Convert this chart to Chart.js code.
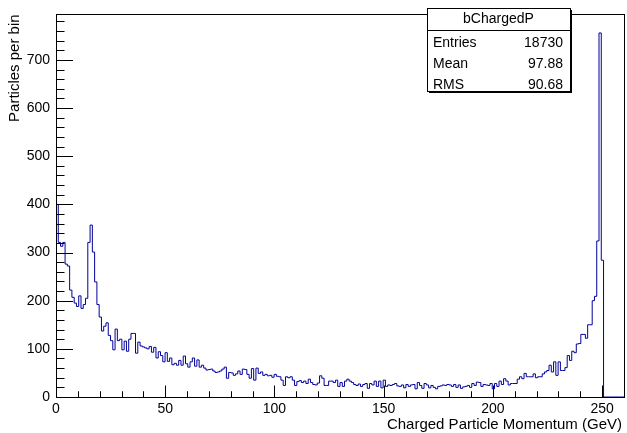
<!DOCTYPE html>
<html>
<head>
<meta charset="utf-8">
<script src="https://cdn.jsdelivr.net/npm/chart.js@4/dist/chart.umd.min.js"></script>
<style>
  html, body { margin: 0; padding: 0; background: #fff; }
  #wrap { width: 627px; height: 433px; }
</style>
</head>
<body>
<div id="wrap"><canvas id="histo" width="627" height="433"></canvas></div>
<script>
// ─── bChargedP histogram ─────────────────────────────────────────────────────

// 250 bins of 1.04 GeV on 0..260
const binWidth = 1.04;
const counts = [
  400, 321, 313, 321, 276, 272, 222, 207, 195, 188,
  210, 184, 192, 205, 321, 357, 301, 239, 192, 166,
  137, 147, 154, 128, 117, 98, 141, 117, 120, 98,
  116, 95, 120, 132, 132, 91, 114, 106, 104, 102,
  100, 105, 93, 103, 81, 94, 86, 73, 92, 74,
  81, 67, 70, 66, 76, 66, 85, 69, 62, 73,
  81, 64, 77, 62, 66, 60, 56, 57, 58, 54,
  51, 52, 54, 58, 62, 39, 51, 50, 45, 48,
  54, 47, 58, 57, 47, 39, 59, 35, 60, 49,
  52, 45, 47, 44, 45, 41, 47, 43, 42, 35,
  24, 42, 40, 42, 35, 24, 32, 34, 30, 33,
  28, 37, 30, 26, 25, 29, 44, 39, 24, 24,
  33, 33, 30, 35, 22, 30, 22, 33, 37, 33,
  30, 26, 24, 27, 22, 26, 28, 18, 28, 25,
  33, 22, 33, 19, 35, 22, 25, 24, 26, 28,
  23, 22, 25, 19, 26, 22, 25, 26, 17, 30,
  24, 18, 28, 25, 19, 24, 20, 17, 22, 23,
  25, 24, 26, 25, 22, 26, 20, 25, 18, 21,
  22, 24, 20, 28, 24, 31, 30, 22, 26, 25,
  24, 28, 17, 28, 22, 33, 26, 38, 33, 25,
  28, 28, 28, 37, 42, 38, 49, 42, 42, 42,
  48, 40, 42, 42, 48, 52, 55, 66, 52, 73,
  45, 73, 55, 55, 61, 86, 76, 95, 92, 110,
  111, 130, 130, 122, 150, 150, 200, 209, 324, 756,
  284, 0, 0, 0, 0, 0, 0, 0, 0, 0
];

const xTicks = [0, 50, 100, 150, 200, 250];
const yTicks = [0, 100, 200, 300, 400, 500, 600, 700];
const xRange = [0, 260];
const yRange = [0, 794.5];

const histName = 'bChargedP';
const statLabels = ['Entries', 'Mean', 'RMS'];
const statValues = ['18730', '97.88', '90.68'];

const xTitle = 'Charged Particle Momentum (GeV)';
const yTitle = 'Particles per bin';

const FONT = '"Liberation Sans", Arial, Helvetica, sans-serif';

// step points at the left edge of each bin, plus the closing edge
const points = counts.map((v, i) => ({ x: i * binWidth, y: v }));
points.push({ x: counts.length * binWidth, y: 0 });

// ROOT-like frame, inward ticks, titles and stats box
const rootFrame = {
  id: 'rootFrame',
  afterDraw(chart) {
    const { ctx, chartArea: a, scales: { x, y } } = chart;
    ctx.save();
    ctx.strokeStyle = '#000';
    ctx.lineWidth = 1;

    // frame
    ctx.strokeRect(Math.round(a.left) + 0.5, Math.round(a.top) + 0.5,
      Math.round(a.right - a.left), Math.round(a.bottom - a.top));

    // y ticks (major 100, minor 20), drawn inside the frame
    const yLen = 0.03 * (a.right - a.left);
    ctx.beginPath();
    for (let v = 0; v <= yRange[1]; v += 20) {
      const py = Math.round(y.getPixelForValue(v)) + 0.5;
      const len = v % 100 === 0 ? yLen : yLen / 2;
      ctx.moveTo(a.left, py);
      ctx.lineTo(a.left + len, py);
    }
    // x ticks (major 50, minor 10)
    const xLen = 0.03 * (a.bottom - a.top);
    for (let v = 0; v <= xRange[1]; v += 10) {
      const px = Math.round(x.getPixelForValue(v)) + 0.5;
      const len = v % 50 === 0 ? xLen : xLen / 2;
      ctx.moveTo(px, a.bottom);
      ctx.lineTo(px, a.bottom - len);
    }
    ctx.stroke();

    // axis titles
    ctx.fillStyle = '#000';
    ctx.font = '15px ' + FONT;
    ctx.textAlign = 'right';
    ctx.textBaseline = 'alphabetic';
    ctx.fillText(xTitle, a.right - 2, 429);

    ctx.save();
    ctx.translate(19, a.top);
    ctx.rotate(-Math.PI / 2);
    ctx.textAlign = 'right';
    ctx.fillText(yTitle, 0, 0);
    ctx.restore();

    // stats box
    const bx = 427, by = 8, bw = 143, bh = 83, hh = 22;
    ctx.fillStyle = '#fff';
    ctx.fillRect(bx, by, bw, bh);
    ctx.strokeRect(bx + 0.5, by + 0.5, bw, bh);
    ctx.lineWidth = 2;
    ctx.beginPath();
    ctx.moveTo(bx + bw + 1, by + 2);
    ctx.lineTo(bx + bw + 1, by + bh + 1);
    ctx.lineTo(bx + 2, by + bh + 1);
    ctx.stroke();
    ctx.lineWidth = 1;
    ctx.beginPath();
    ctx.moveTo(bx, by + hh + 0.5);
    ctx.lineTo(bx + bw, by + hh + 0.5);
    ctx.stroke();

    ctx.fillStyle = '#000';
    ctx.font = '14px ' + FONT;
    ctx.textBaseline = 'middle';
    ctx.textAlign = 'center';
    ctx.fillText(histName, bx + bw / 2, by + 11);
    statLabels.forEach((lab, i) => {
      const ty = by + 35 + i * 21;
      ctx.textAlign = 'left';
      ctx.fillText(lab, bx + 6, ty);
      ctx.textAlign = 'right';
      ctx.fillText(statValues[i], bx + bw - 7, ty);
    });
    ctx.restore();
  }
};

new Chart(document.getElementById('histo').getContext('2d'), {
  type: 'line',
  data: {
    datasets: [{
      label: histName,
      data: points,
      stepped: 'before',
      borderColor: '#000099',
      borderWidth: 1,
      pointRadius: 0,
      fill: false,
      tension: 0
    }]
  },
  options: {
    responsive: false,
    animation: false,
    layout: { padding: { top: 8, right: 3, left: 0, bottom: 0 } },
    plugins: { legend: { display: false }, tooltip: { enabled: false } },
    scales: {
      x: {
        type: 'linear',
        min: xRange[0], max: xRange[1],
        grid: { display: false, drawTicks: false },
        border: { display: false },
        afterBuildTicks: s => { s.ticks = xTicks.map(v => ({ value: v })); },
        afterFit: s => { s.height = 36; },
        ticks: { color: '#000', padding: 4, maxRotation: 0, font: { family: FONT, size: 14 } }
      },
      y: {
        type: 'linear',
        min: yRange[0], max: yRange[1],
        grid: { display: false, drawTicks: false },
        border: { display: false },
        afterBuildTicks: s => { s.ticks = yTicks.map(v => ({ value: v })); },
        afterFit: s => { s.width = 56; },
        ticks: { color: '#000', padding: 6, font: { family: FONT, size: 14 } }
      }
    }
  },
  plugins: [rootFrame]
});
</script>
</body>
</html>
